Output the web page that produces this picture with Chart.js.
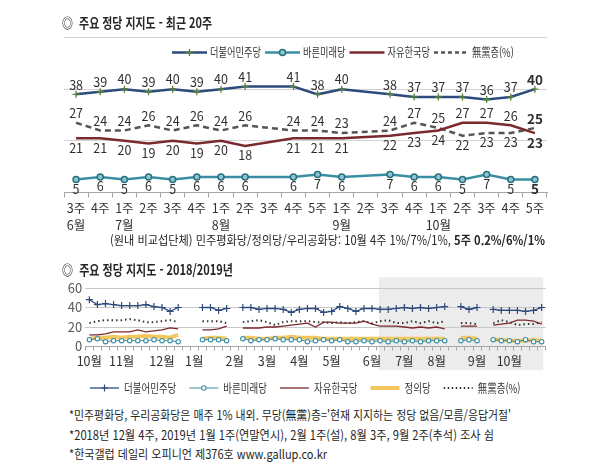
<!DOCTYPE html>
<html lang="ko">
<head>
<meta charset="utf-8">
<title>주요 정당 지지도</title>
<script src="https://cdn.jsdelivr.net/npm/chart.js@4.4.1/dist/chart.umd.min.js"></script>
<style>
  html, body { margin: 0; padding: 0; background: #fff; }
  body { width: 600px; height: 462px; position: relative; overflow: hidden;
         font-family: "Noto Sans CJK KR", "Noto Sans", sans-serif; color: #262626; }
  .txt { position: absolute; white-space: nowrap; line-height: 1; transform-origin: 0 50%; }
  .box { position: absolute; left: 0; width: 600px; }
</style>
</head>
<body>
<div class="box" style="top:0;height:250px;"><canvas id="recent" width="600" height="250"></canvas></div>
<div class="box" style="top:275px;height:125px;"><canvas id="year" width="600" height="125"></canvas></div>

<div class="txt" data-w="150" style="left:62px;top:15px;font-size:14px;font-weight:bold;">◎&nbsp;&nbsp;주요 정당 지지도 - 최근 20주</div>
<div class="txt" data-w="435" style="left:110px;top:234px;font-size:12.5px;">(원내 비교섭단체) 민주평화당/정의당/우리공화당: 10월 4주 1%/7%/1%, <b>5주 0.2%/6%/1%</b></div>
<div class="txt" data-w="171" style="left:62px;top:262px;font-size:14px;font-weight:bold;">◎&nbsp;&nbsp;주요 정당 지지도 - 2018/2019년</div>
<div class="txt" data-w="442" style="left:69px;top:409px;font-size:12.5px;">*민주평화당, 우리공화당은 매주 1% 내외. 무당(無黨)층='현재 지지하는 정당 없음/모름/응답거절'</div>
<div class="txt" data-w="425" style="left:69px;top:429px;font-size:12.5px;">*2018년 12월 4주, 2019년 1월 1주(연말연시), 2월 1주(설), 8월 3주, 9월 2주(추석) 조사 쉼</div>
<div class="txt" data-w="258" style="left:69px;top:448px;font-size:12.5px;">*한국갤럽 데일리 오피니언 제376호 www.gallup.co.kr</div>

<script>
"use strict";
const FONT = '"Noto Sans CJK KR", "Noto Sans", sans-serif';

// weekly results, 2018 Oct wk1 .. 2019 Oct wk5 (null = no survey that week)
const minjoo  = [48,43,44,43,42,42,42,43,41,40,36,40,null,null,40,40,37,39,null,40,40,38,39,39,38,35,38,39,39,35,36,41,39,36,39,39,38,
                 38,39,40,39,40,39,40,41,null,41,38,40,null,38,37,37,37,36,37,40];
const bareun  = [7,8,5,6,6,6,6,6,7,6,6,5,null,null,7,7,7,6,null,8,6,7,7,8,7,7,7,5,6,7,6,7,5,5,6,5,6,
                 5,6,5,6,5,6,6,6,null,6,7,6,null,7,6,6,5,7,5,5];
const hankook = [12,12,13,15,15,15,17,15,16,17,19,18,null,null,17,17,18,21,null,19,19,19,20,20,21,22,23,24,20,25,25,24,24,24,26,23,21,
                 21,21,20,19,20,19,20,18,null,21,21,21,null,22,23,24,27,27,26,23];
const justice = [8,9,9,10,9,10,10,11,10,10,9,12,null,null,8,9,9,8,null,9,9,8,8,9,9,10,9,9,9,8,8,8,8,8,8,8,8,
                 8,8,8,8,8,8,8,8,null,9,9,8,null,7,7,6,6,6,7,6];
const noParty = [24,26,27,27,27,28,27,25,25,26,27,25,null,null,26,26,26,24,null,25,26,27,25,22,25,26,26,26,25,25,24,25,24,25,26,24,26,
                 27,24,24,26,24,26,24,26,null,24,24,23,null,24,27,25,22,23,23,25];

// month label sits on the first week of each month
const monthNames = ['10월','11월','12월','1월','2월','3월','4월','5월','6월','7월','8월','9월','10월'];
const monthStart = [0,4,9,13,18,22,26,30,35,39,43,48,52];

// last 20 weeks (top chart)
const recentWeeks = [['3주','6월'],'4주',['1주','7월'],'2주','3주','4주',['1주','8월'],'2주','3주','4주','5주',
                     ['1주','9월'],'2주','3주','4주',['1주','10월'],'2주','3주','4주','5주'];
const N_RECENT = recentWeeks.length;

const yearLabels = minjoo.map(() => '');
monthStart.forEach((w, i) => { yearLabels[w] = monthNames[i]; });

// legend drawn inside the canvas (line sample + marker + name)
const lineLegend = {
    id: 'lineLegend',
    afterDraw(chart, args, o) {
        const ctx = chart.ctx;
        let x = o.x;
        ctx.save();
        ctx.font = o.font;
        ctx.textBaseline = 'middle';
        chart.data.datasets.forEach(ds => {
            ctx.save();
            ctx.strokeStyle = ds.borderColor;
            ctx.lineWidth = ds.borderWidth;
            ctx.setLineDash(ds.legendDash || []);
            ctx.beginPath();
            ctx.moveTo(x, o.y);
            ctx.lineTo(x + o.lineLen, o.y);
            ctx.stroke();
            ctx.setLineDash([]);
            const cx = x + o.lineLen / 2, r = ds.pointRadius;
            if (r > 0) {
                ctx.strokeStyle = ds.pointBorderColor;
                ctx.fillStyle = ds.pointBackgroundColor;
                ctx.lineWidth = ds.pointBorderWidth;
                ctx.beginPath();
                if (ds.pointStyle === 'cross') {
                    ctx.moveTo(cx - r, o.y); ctx.lineTo(cx + r, o.y);
                    ctx.moveTo(cx, o.y - r); ctx.lineTo(cx, o.y + r);
                    ctx.stroke();
                } else {
                    ctx.arc(cx, o.y, r, 0, Math.PI * 2);
                    ctx.fill(); ctx.stroke();
                }
            }
            ctx.restore();
            const tx = x + o.lineLen + o.gap;
            ctx.fillStyle = o.color;
            ctx.save();
            ctx.translate(tx, o.y);
            ctx.scale(o.squeeze, 1);
            ctx.fillText(ds.label, 0, 0);
            ctx.restore();
            x = tx + ctx.measureText(ds.label).width * o.squeeze + o.itemGap;
        });
        ctx.restore();
    }
};

// value labels for the 20-week chart
function labelSide(key, i) {
    const r = hankook.slice(-N_RECENT)[i], n = noParty.slice(-N_RECENT)[i];
    if (key === 'minjoo') return -1;
    if (key === 'bareun') return 1;
    if (key === 'hankook') return r > n ? -1 : 1;
    return n >= r ? -1 : 1;
}
const valueLabels = {
    id: 'valueLabels',
    afterDatasetsDraw(chart, args, o) {
        const ctx = chart.ctx;
        ctx.save();
        ctx.textAlign = 'center';
        ctx.textBaseline = 'middle';
        ctx.fillStyle = '#303030';
        chart.data.datasets.forEach((ds, di) => {
            chart.getDatasetMeta(di).data.forEach((pt, i) => {
                const v = ds.data[i];
                if (v == null) return;
                const last = i === ds.data.length - 1;
                ctx.font = (last ? 'bold 13.5px ' : '12.5px ') + FONT;
                ctx.fillText(v, pt.x, pt.y + labelSide(ds.key, i) * o.offset);
            });
        });
        ctx.restore();
    }
};

// grey band behind the period shown in the 20-week chart
const shadeBand = {
    id: 'shadeBand',
    beforeDraw(chart, args, o) {
        const {ctx, scales: {x, y}} = chart;
        const x0 = x.getPixelForValue(o.from), x1 = x.getPixelForValue(o.to);
        const y0 = y.getPixelForValue(o.top), y1 = y.getPixelForValue(o.bottom);
        ctx.save();
        ctx.fillStyle = o.color;
        ctx.fillRect(x0, y0, x1 - x0, y1 - y0);
        ctx.restore();
    }
};

const NAVY = '#2d4a7c', TEAL = '#3a8ea3', MAROON = '#7a2a2e', GOLD = '#f3c75e', GREY = '#555';

const noPartyGapDash = ctx => (ctx.p1DataIndex - ctx.p0DataIndex > 1 ? [2, 3] : undefined);

new Chart(document.getElementById('recent'), {
    type: 'line',
    data: {
        labels: recentWeeks,
        datasets: [{
            key: 'minjoo', label: '더불어민주당', data: minjoo.slice(-N_RECENT),
            borderColor: NAVY, borderWidth: 2.5, spanGaps: true, order: 1,
            pointStyle: 'cross', pointRadius: 3.5, pointBorderWidth: 1.3,
            pointBorderColor: '#55823a', pointBackgroundColor: '#55823a'
        }, {
            key: 'bareun', label: '바른미래당', data: bareun.slice(-N_RECENT),
            borderColor: TEAL, borderWidth: 2.5, spanGaps: true, order: 2,
            pointStyle: 'circle', pointRadius: 3, pointBorderWidth: 1.5,
            pointBorderColor: '#2a6f80', pointBackgroundColor: '#8cc6d3'
        }, {
            key: 'hankook', label: '자유한국당', data: hankook.slice(-N_RECENT),
            borderColor: MAROON, borderWidth: 2.5, spanGaps: true, order: 3, pointRadius: 0
        }, {
            key: 'noParty', label: '無黨층(%)', data: noParty.slice(-N_RECENT),
            borderColor: GREY, borderWidth: 2.5, spanGaps: true, order: 4, pointRadius: 0,
            borderDash: [6, 4], legendDash: [4, 3],
            segment: { borderDash: noPartyGapDash }
        }]
    },
    options: {
        responsive: false,
        animation: false,
        layout: { padding: { left: 64, right: 53, top: 37.5, bottom: 0 } },
        plugins: {
            legend: { display: false },
            tooltip: { enabled: false },
            lineLegend: { x: 172, y: 52.5, lineLen: 35, gap: 3, itemGap: 4, squeeze: 0.77,
                          font: '12px ' + FONT, color: '#333' },
            valueLabels: { offset: 9.5 }
        },
        scales: {
            x: {
                offset: true,
                grid: { offset: true, drawOnChartArea: false, tickLength: 5, color: '#a6a6a6' },
                border: { color: '#a6a6a6' },
                ticks: { autoSkip: false, maxRotation: 0, padding: 3, color: '#333',
                         font: { family: FONT, size: 12.5, lineHeight: 1.3 } },
                afterFit: s => { s.height = 57.5; }
            },
            y: {
                min: 0, max: 60,
                ticks: { display: false, stepSize: 20 },
                grid: { color: '#d4d4d4', drawTicks: false },
                border: { display: false },
                afterFit: s => { s.width = 0; }
            }
        }
    },
    plugins: [lineLegend, valueLabels]
});

new Chart(document.getElementById('year'), {
    type: 'line',
    data: {
        labels: yearLabels,
        datasets: [{
            label: '더불어민주당', data: minjoo, borderColor: NAVY, borderWidth: 1.3, order: 1,
            pointStyle: 'cross', pointRadius: 3.5, pointBorderWidth: 1.2,
            pointBorderColor: NAVY, pointBackgroundColor: NAVY
        }, {
            label: '바른미래당', data: bareun, borderColor: TEAL, borderWidth: 1, order: 2,
            pointStyle: 'circle', pointRadius: 2.2, pointBorderWidth: 1.1,
            pointBorderColor: TEAL, pointBackgroundColor: '#fff'
        }, {
            label: '자유한국당', data: hankook, borderColor: MAROON, borderWidth: 1.3, order: 3, pointRadius: 0
        }, {
            label: '정의당', data: justice, borderColor: GOLD, borderWidth: 4, order: 5, pointRadius: 0
        }, {
            label: '無黨층(%)', data: noParty, borderColor: '#333', borderWidth: 2, order: 4, pointRadius: 0,
            borderDash: [1.5, 3], legendDash: [1.5, 2.5]
        }]
    },
    options: {
        responsive: false,
        animation: false,
        layout: { padding: { left: 55.3, right: 54.3, top: 13, bottom: 0 } },
        plugins: {
            legend: { display: false },
            tooltip: { enabled: false },
            shadeBand: { from: 35.85, to: 56.2, top: 71, bottom: -24, color: '#ececec' },
            lineLegend: { x: 90, y: 113, lineLen: 29, gap: 5, itemGap: 13, squeeze: 0.79,
                          font: '12px ' + FONT, color: '#333' }
        },
        scales: {
            x: {
                offset: true,
                grid: { offset: true, drawOnChartArea: false, tickLength: 4, color: '#a6a6a6' },
                border: { color: '#a6a6a6' },
                ticks: { autoSkip: false, maxRotation: 0, padding: 3, color: '#333',
                         font: { family: FONT, size: 12.5 } },
                afterFit: s => { s.height = 53.5; }
            },
            y: {
                min: 0, max: 60,
                ticks: { stepSize: 20, padding: 3, color: '#595959', font: { family: FONT, size: 13 } },
                grid: { color: '#c8c8c8', drawTicks: false },
                border: { display: false },
                afterFit: s => { s.width = 30; }
            }
        }
    },
    plugins: [shadeBand, lineLegend]
});

// squeeze the html captions to the widths they take in the picture
function fitCaptions() {
    document.querySelectorAll('.txt[data-w]').forEach(el => {
        el.style.transform = 'none';
        const w = el.getBoundingClientRect().width;
        el.style.transform = 'scaleX(' + (Number(el.dataset.w) / w) + ')';
    });
}
fitCaptions();
if (document.fonts) document.fonts.ready.then(fitCaptions);
</script>
</body>
</html>
